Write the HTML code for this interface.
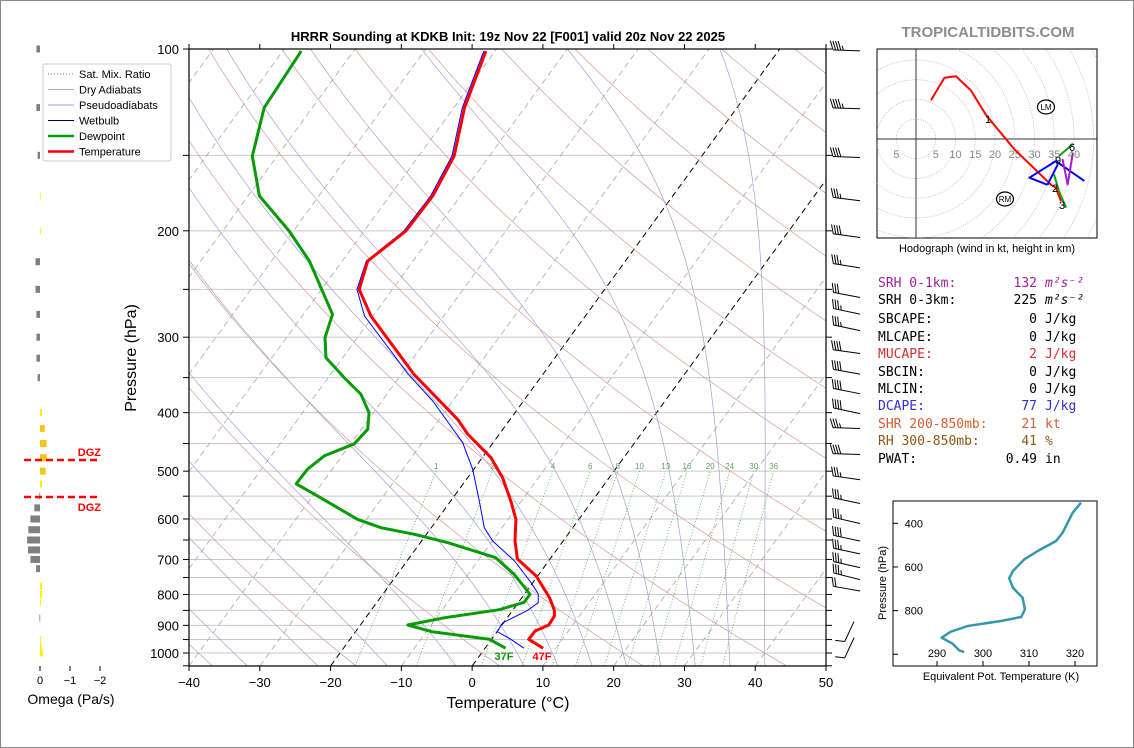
<!DOCTYPE html>
<html><head><meta charset="utf-8"><style>
html,body{margin:0;padding:0;background:#fff;}
#wrap{position:relative;width:1134px;height:748px;overflow:hidden;box-sizing:border-box;border:1px solid #8a8a8a;}
svg text{font-family:"Liberation Sans","DejaVu Sans",sans-serif;}
.mono{font-family:"DejaVu Sans Mono","Liberation Mono",monospace;}
</style></head><body>
<div id="wrap">
<svg id="svg" width="1134" height="748" xmlns="http://www.w3.org/2000/svg">
<defs>
<clipPath id="clipMain"><rect x="188" y="48" width="637" height="617"/></clipPath>
<clipPath id="clipHodo"><rect x="876" y="48" width="220" height="189"/></clipPath>
<clipPath id="clipTe"><rect x="892" y="500" width="204" height="165"/></clipPath>
</defs>
<g id="bg" clip-path="url(#clipMain)"></g>
<g id="prof" clip-path="url(#clipMain)"></g>
<g id="axes"></g>
<g id="barbs"></g>
<g id="omega"></g>
<g id="hodo"></g>
<g id="te"></g>
<text x="507" y="40" text-anchor="middle" font-size="13" font-weight="bold">HRRR Sounding at KDKB Init: 19z Nov 22 [F001] valid 20z Nov 22 2025</text>
<text x="987" y="36" text-anchor="middle" font-size="15" font-weight="bold" fill="#8c8c8c">TROPICALTIDBITS.COM</text>
<text x="507" y="707" text-anchor="middle" font-size="16">Temperature (°C)</text>
<text transform="translate(135,357) rotate(-90)" text-anchor="middle" font-size="16">Pressure (hPa)</text>
<text x="70" y="703" text-anchor="middle" font-size="14">Omega (Pa/s)</text>
<text x="986" y="251" text-anchor="middle" font-size="11">Hodograph (wind in kt, height in km)</text>
<text x="1000" y="679" text-anchor="middle" font-size="11">Equivalent Pot. Temperature (K)</text>
<text transform="translate(885,582) rotate(-90)" text-anchor="middle" font-size="11">Pressure (hPa)</text>
<text x="503" y="659" text-anchor="middle" font-size="11" font-weight="bold" fill="#079b07">37F</text>
<text x="541" y="659" text-anchor="middle" font-size="11" font-weight="bold" fill="#ff0000">47F</text>
<g id="legend">
<rect x="42" y="63" width="128" height="97" fill="#fff" stroke="#ccc" rx="2"/>
</g>
<g id="stats" class="mono" font-size="13"></g>
</svg>
</div>
<script>
// ---------- data ----------
const tempP=[982,949,919.5,898.9,868.6,848.9,809.9,745.7,698.9,652.6,600.6,560.3,512.7,475,434,410.4,345.7,276.7,250,224.4,200.1,175.1,150.4,125.1,100.8];
const tempC=[8.2,5.25,5.3,6.6,6.5,5.85,3.9,-0.2,-4.6,-6.8,-8.9,-11.5,-15.05,-18.75,-24.5,-27.4,-38.2,-50.3,-54.7,-56.4,-54.1,-53.9,-55,-58.5,-61.3];
const dewP=[982,949,921.8,898.9,874.3,847.9,824.2,799.6,777.6,740.9,695.4,656.8,636.1,620.3,600.6,553.4,524.6,496.5,471.8,450.4,426.3,400.3,373,350.2,324.4,300.6,274.9,224.4,200.1,175.1,150.4,125.1,100.8];
const dewC=[2.9,-0.3,-9.3,-13.3,-8.9,-1.95,0.8,0.8,-0.75,-3.5,-7.8,-16.1,-21.7,-27.1,-31.3,-38.7,-43.6,-43.5,-42.5,-39.5,-39.1,-40.6,-43.65,-47.7,-52.35,-54.55,-55.9,-64.65,-70.6,-78.4,-83.5,-86.8,-87.4];
const wbP=[982,945.5,921.8,891.1,850,825.6,797.8,764.8,704.2,652.6,620.3,560.3,496.5,448.6,382.7,345.7,276.7,250,224.4,200.1,175.1,150.4,125.1,100.8];
const wbC=[5.5,2.4,0,-0.13,2.1,2.84,1.9,-0.24,-4.8,-9.95,-12.5,-15.95,-20.15,-24.3,-32.8,-39.0,-51.2,-55.0,-56.6,-54.4,-54.2,-55.3,-58.8,-61.6];
const omegaP=[100,125,150,175,200,225,250,275,300,325,350,400,425,450,475,500,525,550,575,600,625,650,675,700,725,775,800,825,875,950,975,1000];
const omegaV=[0.12,0.12,0.08,-0.02,-0.02,0.15,0.15,0.12,0.12,0.12,0.08,-0.07,-0.16,-0.22,-0.23,-0.19,-0.07,0.02,0.19,0.32,0.39,0.43,0.4,0.32,0.13,-0.07,-0.07,-0.03,0.02,-0.03,-0.05,-0.09];
const thetaeP=[305.6,351.4,443,481,526.9,565,618.5,652,695,740.8,794,829.2,847.5,870.5,896.6,924,951.5,981.8,989.6];
const thetaeK=[321.3,319.5,317.3,315.9,311.9,309,306.5,305.7,306.5,308.6,309.1,308.3,303.9,296.7,293,291,293.4,294.8,295.9];
const barbP=[100.7,125.6,151.2,178.3,205.2,230.3,257.9,274.8,292.6,319.2,345.3,372.1,401.5,425,469.3,516.5,565.5,610.4,652.6,685.4,722.3,755.9,789.5];
const barbSpd=[45,45,40,35,40,35,30,35,35,40,40,40,40,35,40,35,35,35,40,35,35,35,20];
const barbDir=[272,272,272,277,278,279,281,282,282,278,280,281,282,272,272,278,282,283,282,282,283,284,280];
const lowBarbP=[887,944];
const lowBarbSpd=[10,10];
const lowBarbDir=[205,205];
const hodoRedU=[3.8,7.2,10.1,13.9,17.7,24.9,34.2,35.4,36.7];
const hodoRedV=[9.8,15.5,15.9,12.3,6.1,-2.6,-11.6,-12.3,-15.7];
const hodoGreenU=[34.9,36.2,38.0];
const hodoGreenV=[-8.9,-13.2,-17.4];
const hodoGreen2U=[36.2,39.7];
const hodoGreen2V=[-4.3,-1.3];
const hodoBlueU=[33.3,28.7,35.4,42.6];
const hodoBlueV=[-11.6,-9.8,-5.6,-10.6];
const hodoBlue2U=[33.3,35.9];
const hodoBlue2V=[-11.6,-6.4];
const hodoPurpleU=[37.1,38.4,39.7];
const hodoPurpleV=[-5.1,-11.5,-3.5];
const xTicks=[-40,-30,-20,-10,0,10,20,30,40,50];
const yTicks=[100,200,300,400,500,600,700,800,900,1000];
const mixRatios=[1,2,4,6,8,10,13,16,20,24,30,36];

// ---------- helpers ----------
const NS="http://www.w3.org/2000/svg";
function mk(tag,attrs,parent){const e=document.createElementNS(NS,tag);for(const k in attrs)e.setAttribute(k,attrs[k]);parent.appendChild(e);return e;}
const yP=p=>48+604*Math.log10(p/100);
const xT=(T,p)=>188+(T+40)*7.078+(665-yP(p))*0.728;
const $=id=>document.getElementById(id);

// ---------- background ----------
const bg=$('bg');
for(let p=100;p<=1050;p+=50){const l=mk('line',{x1:188,x2:825,y1:yP(p),y2:yP(p),stroke:'#c8c8c8','stroke-width':1},bg);
}
for(let T=-130;T<=50;T+=10){const special=(T===0||T===-20);
const l=mk('line',{x1:xT(T,1050),y1:yP(1050),x2:xT(T,100),y2:yP(100),stroke:special?'#000':'#a8a8a8','stroke-width':special?1:0.8,'stroke-dasharray':'6,4'},bg);
}
for(let t0=-40;t0<=220;t0+=20){const th=t0+273.15;let d='';
for(let p=1050;p>=100;p-=10){const T=th*Math.pow(p/1000,0.286)-273.15;d+=(d?'L':'M')+xT(T,p).toFixed(1)+','+yP(p).toFixed(1);}
const l=mk('path',{d:d,fill:'none',stroke:'#d89a9a','stroke-width':0.7},bg);
}
const es=T=>6.112*Math.exp(17.67*T/(T+243.5));
function moistSlope(Tc,p){const T=Tc+273.15;const e=es(Tc);const rs=0.622*e/(p-e);const Lv=2.501e6,Rd=287.04,Cp=1005.7;
return (1/p)*(Rd*T+Lv*rs)/(Cp+(Lv*Lv*rs*0.622)/(Rd*T*T));}
const moistStarts=[-45,-35,-25,-15,-5,5,10,15,20,25,30,35,40];
moistStarts.forEach(t0=>{let Td=t0;for(let pp=1000;pp<1050;pp+=5){Td+=moistSlope(Td,pp)*5;}
let arr=[[Td,1050],[t0,1000]];let T=t0;for(let p=1000;p>100;p-=5){T-=moistSlope(T,p)*5;arr.push([T,p-5]);}
let d='';arr.forEach(a=>{d+=(d?'L':'M')+xT(a[0],a[1]).toFixed(1)+','+yP(a[1]).toFixed(1);});
const l=mk('path',{d:d,fill:'none',stroke:'#a0a0d8','stroke-width':0.7},bg);
});
function tdFromW(w,p){const e=w*p/(622+w);const g=Math.log(e/6.112);return 243.5*g/(17.67-g);}
mixRatios.forEach(w=>{const x1=xT(tdFromW(w,1050),1050),x2=xT(tdFromW(w,500),500);
const l=mk('line',{x1:x1,y1:yP(1050),x2:x2,y2:yP(500),stroke:'#5aa55a','stroke-width':0.8,'stroke-dasharray':'1,2'},bg);

const t=mk('text',{x:x2,y:yP(500)-2,'text-anchor':'middle','font-size':8,fill:'#5aa55a'},bg);t.textContent=w;
});

// ---------- profiles ----------
const prof=$('prof');
function poly(P,T,stroke,w){let d='';P.forEach((p,i)=>{d+=(i?'L':'M')+xT(T[i],p).toFixed(1)+','+yP(p).toFixed(1);});
return mk('path',{d:d,fill:'none',stroke:stroke,'stroke-width':w,'stroke-linejoin':'round'},prof);}
let e;
e=poly(wbP,wbC,'#0000ff',1);
e=poly(dewP,dewC,'#079b07',3);
e=poly(tempP,tempC,'#ff0000',3);

// ---------- axes ----------
const ax=$('axes');
e=mk('rect',{x:188,y:48,width:637,height:617,fill:'none',stroke:'#000','stroke-width':1.2},ax);

for(let p=100;p<=1050;p+=50){mk('line',{x1:182,x2:188,y1:yP(p),y2:yP(p),stroke:'#000'},ax);mk('line',{x1:825,x2:831,y1:yP(p),y2:yP(p),stroke:'#000'},ax);}
yTicks.forEach(p=>{const t=mk('text',{x:178,y:yP(p)+5,'text-anchor':'end','font-size':13},ax);t.textContent=p;
});
xTicks.forEach(T=>{const x=188+(T+40)*7.078;mk('line',{x1:x,x2:x,y1:665,y2:670,stroke:'#000'},ax);mk('line',{x1:x,x2:x,y1:48,y2:43,stroke:'#000'},ax);
const t=mk('text',{x:x,y:686,'text-anchor':'middle','font-size':13},ax);t.textContent=T<0?'\u2212'+(-T):T;
});

// ---------- barbs ----------
const bb=$('barbs');
function barb(p,spd,dir,sx,L){const sy=yP(p);const r=dir*Math.PI/180;const ux=Math.sin(r),uy=-Math.cos(r);
const tx=sx+ux*L,ty=sy+uy*L;const g=mk('g',{},bb);

mk('line',{x1:sx,y1:sy,x2:tx,y2:ty,stroke:'#000','stroke-width':1},g);
const px=-uy,py=ux;let rem=Math.round(spd/5)*5;let pos=0;
while(rem>=10){const bx=tx-ux*pos,by=ty-uy*pos;mk('line',{x1:bx,y1:by,x2:bx+px*9+ux*3,y2:by+py*9+uy*3,stroke:'#000','stroke-width':1},g);rem-=10;pos+=2.6;}
if(rem>=5){if(pos===0)pos=2.6;const bx=tx-ux*pos,by=ty-uy*pos;mk('line',{x1:bx,y1:by,x2:bx+px*4.5+ux*1.5,y2:by+py*4.5+uy*1.5,stroke:'#000','stroke-width':1},g);}}
barbP.forEach((p,i)=>barb(p,barbSpd[i],barbDir[i],859,27));
lowBarbP.forEach((p,i)=>barb(p,lowBarbSpd[i],lowBarbDir[i],853,22));

// ---------- omega ----------
const om=$('omega');
omegaP.forEach((p,i)=>{const v=omegaV[i];const w=Math.abs(v)*30;const x=v>0?39-w:39;
const col=v>0?'#808080':(Math.abs(v)>0.1?'#f5c518':'#ffee00');
const r=mk('rect',{x:x,y:yP(p)-3.5,width:Math.max(w,0.8),height:7,fill:col},om);
});
[[0,'0'],[-1,'\u22121'],[-2,'\u22122']].forEach(a=>{const x=39-a[0]*30;mk('line',{x1:x,x2:x,y1:665,y2:670,stroke:'#000'},om);
const t=mk('text',{x:x,y:683,'text-anchor':'middle','font-size':11},om);t.textContent=a[1];
});
[459,496].forEach((y,i)=>{const l=mk('line',{x1:23,x2:99,y1:y,y2:y,stroke:'#ff0000','stroke-width':2.5,'stroke-dasharray':'7,4'},om);

const t=mk('text',{x:100,y:i?510:455,'text-anchor':'end','font-size':11,'font-weight':'bold',fill:'#ff0000'},om);t.textContent='DGZ';
});

// ---------- hodograph ----------
const hd=$('hodo');const hx=915,hy=138,hs=3.95;
e=mk('rect',{x:876,y:48,width:220,height:189,fill:'#fff',stroke:'#000'},hd);
const hc=mk('g',{'clip-path':'url(#clipHodo)'},hd);
for(let r=5;r<=50;r+=5)mk('circle',{cx:hx,cy:hy,r:r*hs,fill:'none',stroke:'#b4b4b4','stroke-width':0.8,'stroke-dasharray':'1,1.5'},hc);
mk('line',{x1:876,x2:1096,y1:hy,y2:hy,stroke:'#333'},hc);mk('line',{x1:hx,x2:hx,y1:48,y2:237,stroke:'#333'},hc);
[[-5,'5'],[5,'5'],[10,'10'],[15,'15'],[20,'20'],[25,'25'],[30,'30'],[35,'35'],[40,'40']].forEach(a=>{const t=mk('text',{x:hx+a[0]*hs,y:157,'text-anchor':'middle','font-size':11,fill:'#888'},hc);t.textContent=a[1];
});
function hpath(U,V,col){let d='';U.forEach((u,i)=>{d+=(i?'L':'M')+(hx+u*hs).toFixed(1)+','+(hy-V[i]*hs).toFixed(1);});
return mk('path',{d:d,fill:'none',stroke:col,'stroke-width':2,'stroke-linejoin':'round'},hc);}
e=hpath(hodoRedU,hodoRedV,'#ff0000');
e=hpath(hodoGreenU,hodoGreenV,'#1a9a1a');
e=hpath(hodoGreen2U,hodoGreen2V,'#1a9a1a');
e=hpath(hodoBlueU,hodoBlueV,'#0000ff');
e=hpath(hodoBlue2U,hodoBlue2V,'#0000ff');
e=hpath(hodoPurpleU,hodoPurpleV,'#a020c0');
[[987,122,'1'],[1054,191,'2'],[1061,208,'3'],[1071,150,'6'],[1057,163,'9']].forEach(a=>{const t=mk('text',{x:a[0],y:a[1],'text-anchor':'middle','font-size':11},hc);t.textContent=a[2];
});
[[1045,106,'LM'],[1004,198,'RM']].forEach(a=>{const g=mk('g',{},hc);
mk('ellipse',{cx:a[0],cy:a[1],rx:8.5,ry:7,fill:'#fff',stroke:'#000','stroke-width':1.2},g);
const t=mk('text',{x:a[0],y:a[1]+3,'text-anchor':'middle','font-size':8},g);t.textContent=a[2];});

// ---------- theta-e ----------
const te=$('te');const tX=k=>936+(k-290)*4.6,tY=p=>522.3+(p-400)*0.2183;
e=mk('rect',{x:892,y:500,width:204,height:165,fill:'#fff',stroke:'#000'},te);
[400,600,800,1000].forEach(p=>{mk('line',{x1:892,x2:897,y1:tY(p),y2:tY(p),stroke:'#000'},te);
if(p<1000){const t=mk('text',{x:922,y:tY(p)+4,'text-anchor':'end','font-size':11},te);t.textContent=p;}});
[290,300,310,320].forEach(k=>{mk('line',{x1:tX(k),x2:tX(k),y1:665,y2:660,stroke:'#000'},te);
const t=mk('text',{x:tX(k),y:656,'text-anchor':'middle','font-size':11},te);t.textContent=k;});
let d='';thetaeP.forEach((p,i)=>{d+=(i?'L':'M')+tX(thetaeK[i]).toFixed(1)+','+tY(p).toFixed(1);});
e=mk('path',{d:d,fill:'none',stroke:'#3399aa','stroke-width':2.5,'stroke-linejoin':'round','clip-path':'url(#clipTe)'},te);


// ---------- legend ----------
const lg=$('legend');
[['Sat. Mix. Ratio','#5aa55a',1,'1,2'],['Dry Adiabats','#c8a8a8',1,''],['Pseudoadiabats','#a0a0d8',1,''],['Wetbulb','#000040',1,''],['Dewpoint','#079b07',2.5,''],['Temperature','#ff0000',2.5,'']].forEach((a,i)=>{
const y=73+i*15.5;const g=mk('g',{},lg);
const la={x1:47,x2:73,y1:y,y2:y,stroke:a[1],'stroke-width':a[2]};if(a[3])la['stroke-dasharray']=a[3];mk('line',la,g);
const t=mk('text',{x:78,y:y+4,'font-size':11},g);t.textContent=a[0];});

// ---------- stats ----------
const st=$('stats');
const rows=[['SRH 0-1km:','132','m²s⁻²','#a020a0',282],['SRH 0-3km:','225','m²s⁻²','#000',299],['SBCAPE:','0','J/kg','#000',318],['MLCAPE:','0','J/kg','#000',336],['MUCAPE:','2','J/kg','#d03030',353],['SBCIN:','0','J/kg','#000',371],['MLCIN:','0','J/kg','#000',388],['DCAPE:','77','J/kg','#3030d0',405],['SHR 200-850mb:','21','kt','#d0602e',423],['RH 300-850mb:','41','%','#8b5a14',440],['PWAT:','0.49','in','#000',458]];
rows.forEach(r=>{const g=mk('g',{fill:r[3]},st);
const a=mk('text',{x:877,y:r[4]+4,class:'mono'},g);a.textContent=r[0];
const b=mk('text',{x:1036,y:r[4]+4,'text-anchor':'end',class:'mono'},g);b.textContent=r[1];
const c=mk('text',{x:1044,y:r[4]+4,class:'mono','font-style':r[2].startsWith('m')?'italic':'normal'},g);c.textContent=r[2];});
</script>
</body></html>
